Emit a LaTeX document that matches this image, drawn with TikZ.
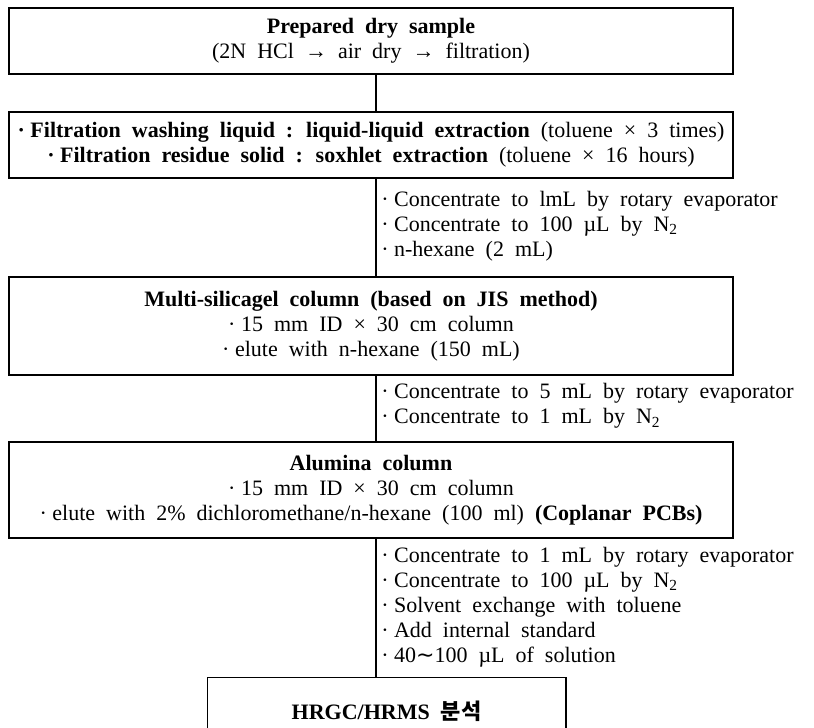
\documentclass[tikz,border=0pt]{standalone}
\usepackage{fontspec}
\setmainfont{Liberation Serif}
\newfontfamily\kor{Noto Sans CJK KR}
\newfontfamily\symb{DejaVu Sans}
\usetikzlibrary{positioning}

\newcommand\flowfont{\fontsize{16.5}{18.7}\selectfont\spaceskip=0.5em\relax}
\newcommand\bul{·\hspace{0.25em}}

\tikzset{
  stage/.style={draw,line width=1pt,minimum width=543pt,align=center,inner sep=0pt,font=\flowfont},
  note/.style={align=left,inner sep=0pt,anchor=west,font=\flowfont},
  link/.style={line width=1pt}
}

\begin{document}
\begin{tikzpicture}[x=0.75pt,y=-0.75pt]
  \useasboundingbox (0,0) rectangle (814,728);
  \coordinate (spine) at (376,0);

  % boxes
  \node[stage,minimum height=49.5pt] (prep) at (371,41)
    {\textbf{Prepared dry sample}\\(2N HCl → air dry → filtration)};
  \node[stage,minimum height=49.5pt] (extr) at (371,145)
    {\textbf{\bul Filtration washing liquid : liquid-liquid extraction} (toluene × 3 times)\\
     \textbf{\bul Filtration residue solid : soxhlet extraction} (toluene × 16 hours)};
  \node[stage,minimum height=73.5pt] (silica) at (371,326)
    {\textbf{Multi-silicagel column (based on JIS method)}\\
     \bul 15 mm ID × 30 cm column\\
     \bul elute with n-hexane (150 mL)};
  \node[stage,minimum height=72pt] (alumina) at (371,490)
    {\textbf{Alumina column}\\
     \bul 15 mm ID × 30 cm column\\
     \bul elute with 2\% dichloromethane/n-hexane (100 ml) \textbf{(Coplanar PCBs)}};
  \node[stage,minimum width=269pt,minimum height=50pt,anchor=north] (hrgc) at (386.5,677)
    {\textbf{HRGC/HRMS {\kor 분석}}};

  % notes beside the line
  \node[note] (n1) at (381,226)
    {\bul Concentrate to lmL by rotary evaporator\\
     \bul Concentrate to 100 µL by N\textsubscript{2}\\
     \bul n-hexane (2 mL)};
  \node[note] (n2) at (381,406)
    {\bul Concentrate to 5 mL by rotary evaporator\\
     \bul Concentrate to 1 mL by N\textsubscript{2}};
  \node[note] (n3) at (381,607)
    {\bul Concentrate to 1 mL by rotary evaporator\\
     \bul Concentrate to 100 µL by N\textsubscript{2}\\
     \bul Solvent exchange with toluene\\
     \bul Add internal standard\\
     \bul 40{\symb ∼}100 µL of solution};

  % connectors
  \draw[link] (prep.south -| spine) -- (extr.north -| spine);
  \draw[link] (extr.south -| spine) -- (silica.north -| spine);
  \draw[link] (silica.south -| spine) -- (alumina.north -| spine);
  \draw[link] (alumina.south -| spine) -- (hrgc.north -| spine);
\end{tikzpicture}
\end{document}
